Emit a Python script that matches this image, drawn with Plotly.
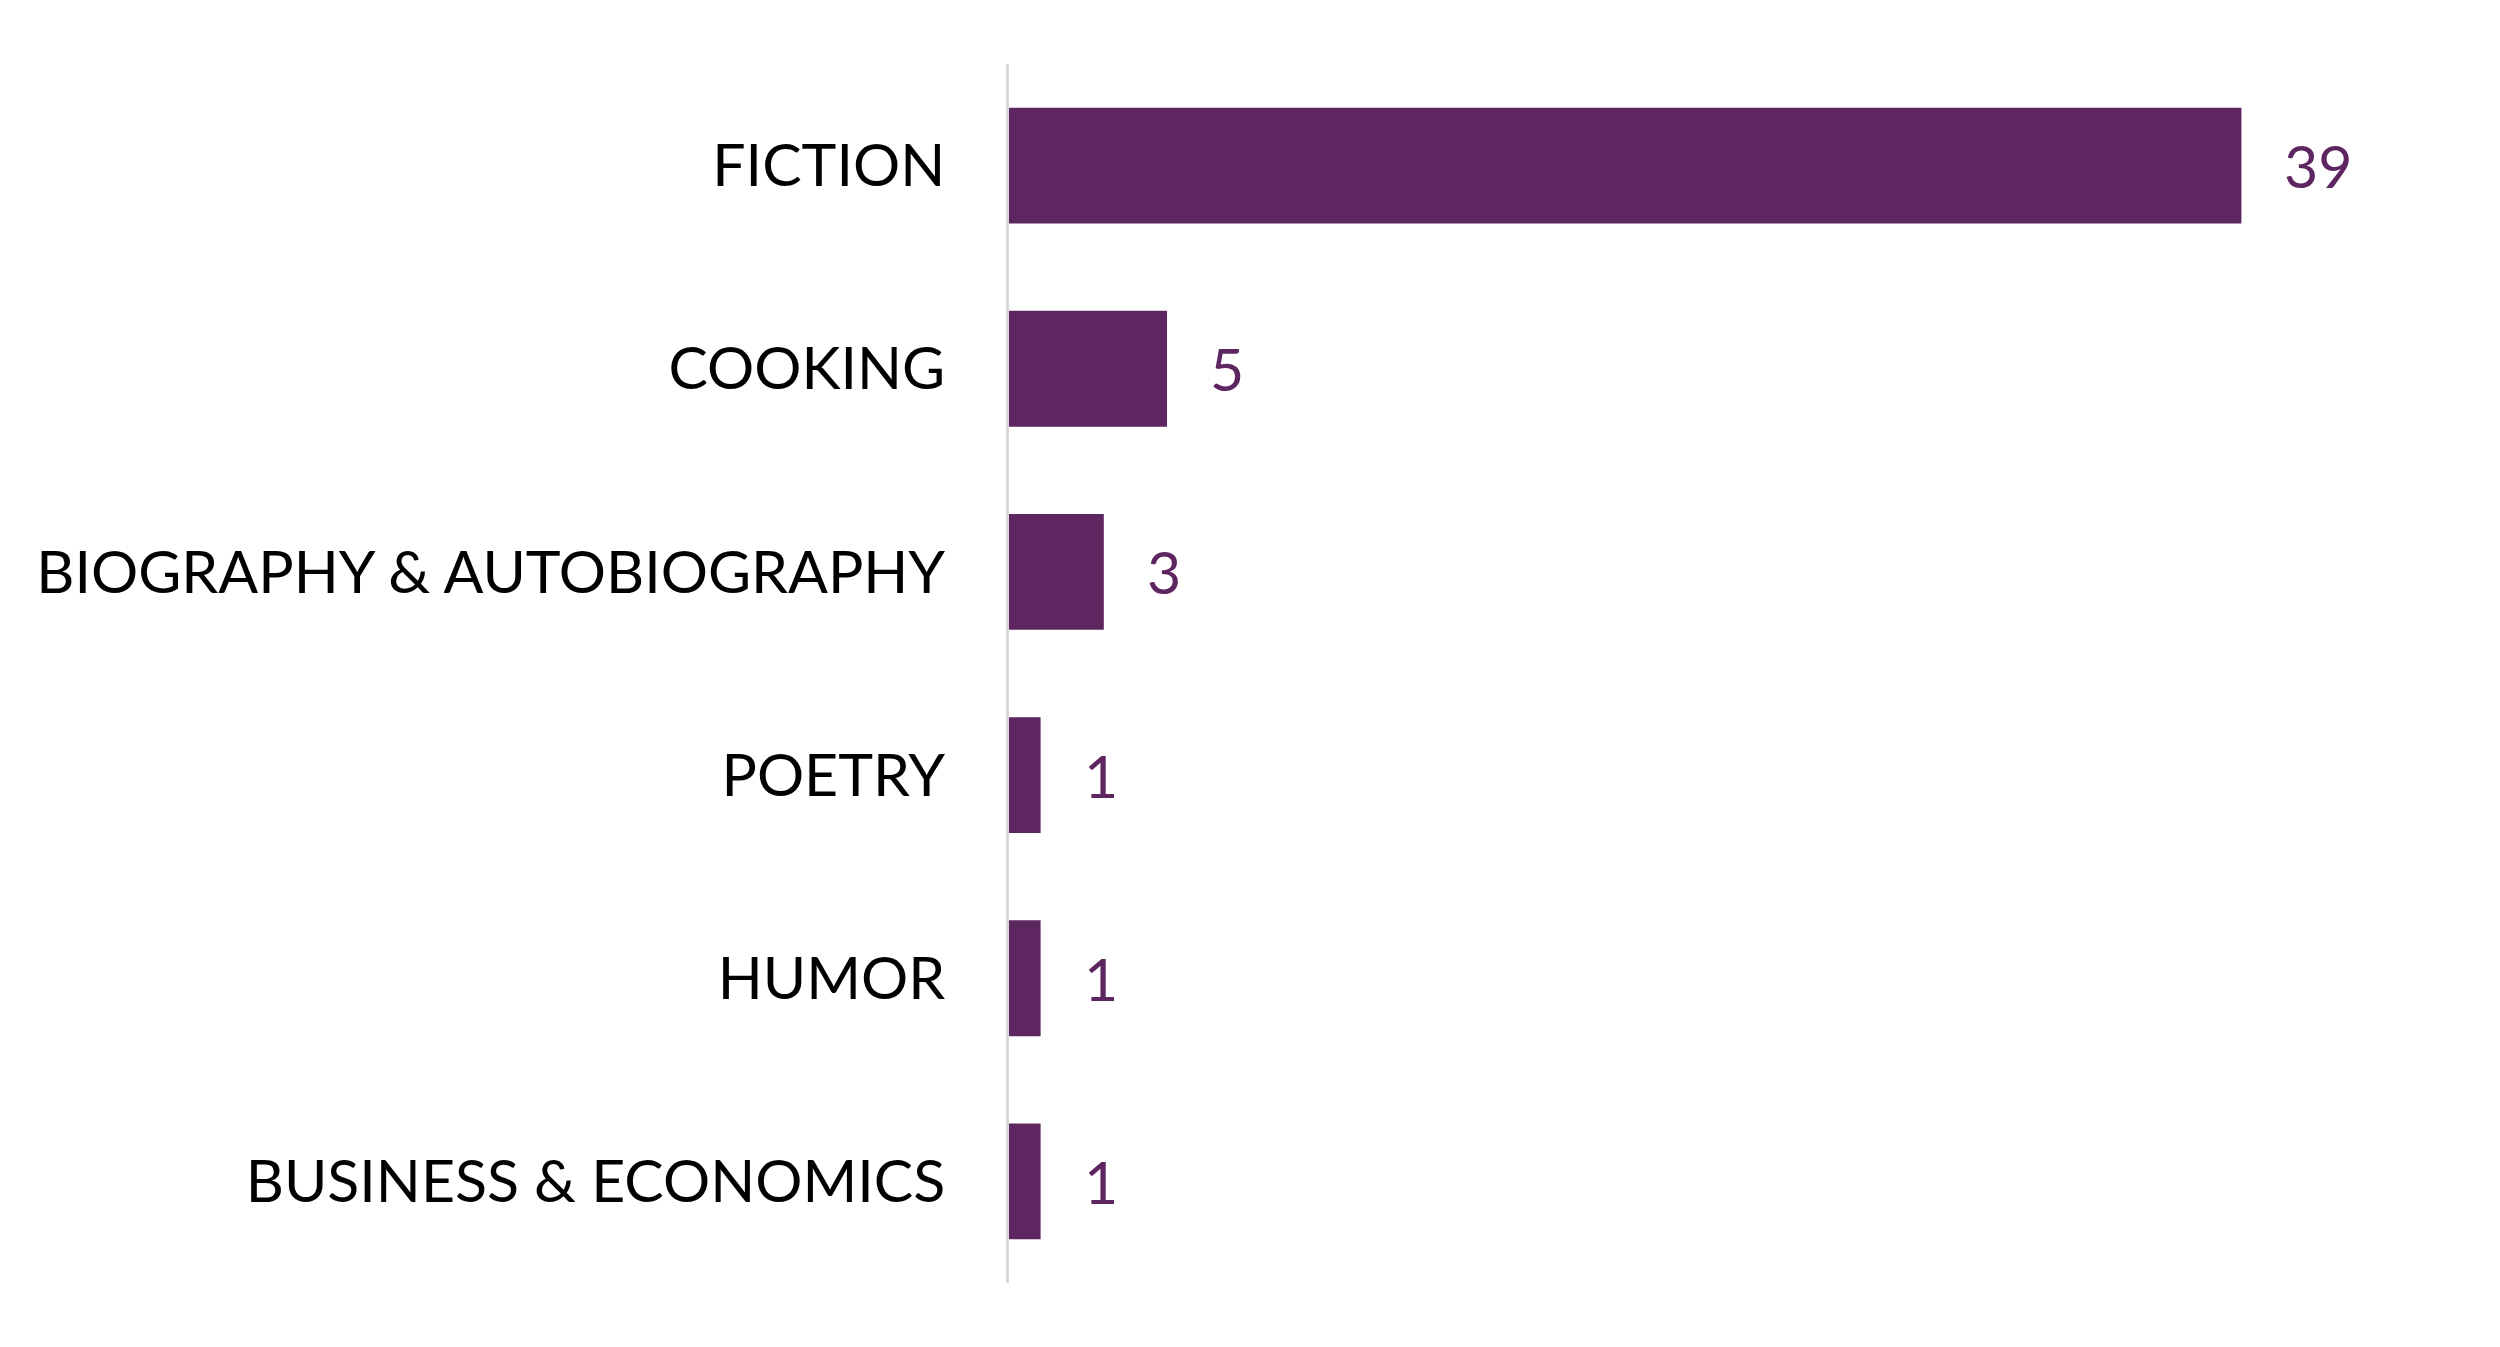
import plotly.graph_objects as go

categories = ['FICTION', 'COOKING', 'BIOGRAPHY & AUTOBIOGRAPHY', 'POETRY', 'HUMOR', 'BUSINESS & ECONOMICS']
counts = [39, 5, 3, 1, 1, 1]

BAR_COLOR = '#5E2660'
FONT = 'Lato'

fig = go.Figure()
fig.add_trace(go.Bar(
    x=counts, y=categories, orientation='h',
    marker=dict(color=BAR_COLOR, line=dict(width=0)),
    hoverinfo='x+y',
))

# value labels to the right of each bar
for cat, val in zip(categories, counts):
    fig.add_annotation(x=val, y=cat, text=str(val), showarrow=False,
                       xanchor='left', yanchor='middle', xshift=41,
                       font=dict(family=FONT, size=59, color=BAR_COLOR))

fig.update_layout(
    width=2500, height=1347,
    margin=dict(l=1001, r=77, t=56, b=72),
    paper_bgcolor='white', plot_bgcolor='white',
    bargap=0.43,
    showlegend=False,
    font=dict(family=FONT, size=59, color='black'),
)
fig.update_xaxes(visible=False, range=[0, 45])
fig.update_yaxes(categoryorder='array', categoryarray=categories, autorange='reversed',
                 showline=True, linecolor='#D9D9D9', linewidth=3,
                 showgrid=False, ticks='', ticklabelstandoff=49,
                 tickfont=dict(family=FONT, size=59, color='black'))

fig.write_html("out.html")
